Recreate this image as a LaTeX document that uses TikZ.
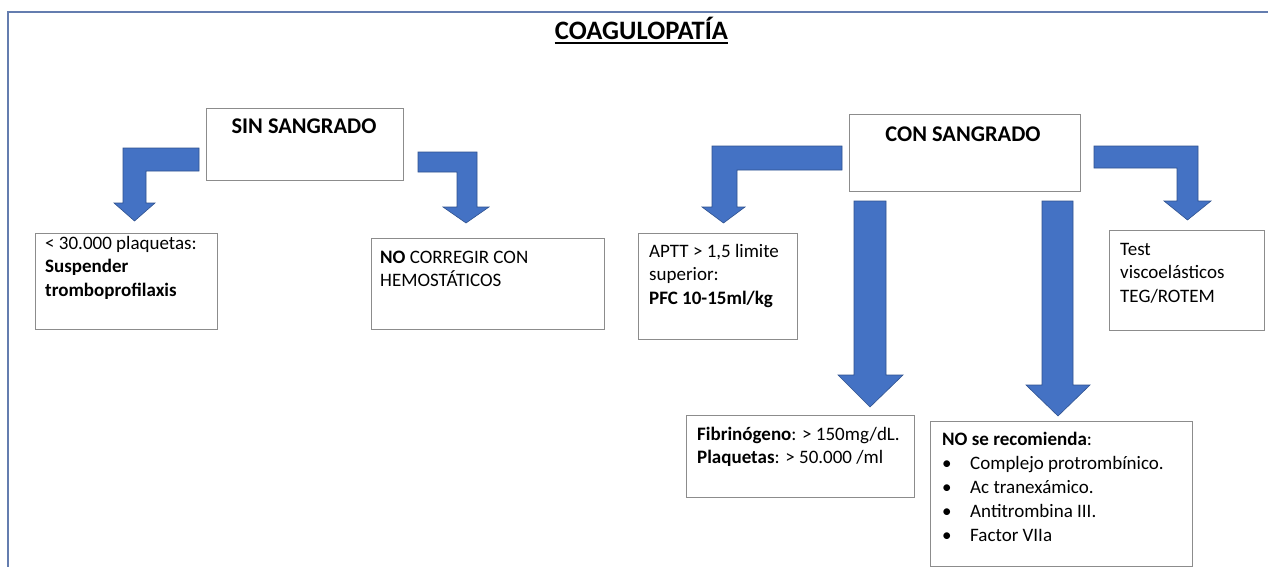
\documentclass[tikz,border=0pt]{standalone}
\usepackage{fontspec}
\setmainfont{Carlito}
\usetikzlibrary{calc}
\definecolor{frameblue}{RGB}{100,125,175}
\definecolor{arrowblue}{RGB}{68,114,196}
\definecolor{arrowedge}{RGB}{47,82,143}
\definecolor{boxgray}{RGB}{140,140,140}
% left-aligned stack of lines whose baseline is the first line's
\newcommand\stack[1]{\vtop{\halign{##\hfil\cr#1\crcr}}}
\newcommand\bul{\makebox[28pt][l]{\textbullet}}
\begin{document}
\begin{tikzpicture}[x=1pt,y=-1pt,
  box/.style={draw=boxgray, line width=1pt, fill=white, rectangle, inner sep=0pt, anchor=north west},
  body/.style={inner sep=0pt, anchor=base west, font=\fontsize{19}{23.5}\selectfont},
  head/.style={inner sep=0pt, anchor=base, font=\fontsize{22.4}{26}\selectfont\bfseries},
  blockarrow/.style={fill=arrowblue, draw=arrowedge, line width=0.6pt, line join=miter}]
\useasboundingbox (0,0) rectangle (1268,567);
\fill[white] (0,0) rectangle (1268,567);
% page frame
\draw[frameblue, line width=2.2pt] (8,567) -- (8,12) -- (1268,12);

% title
\node[inner sep=0pt, anchor=base, font=\fontsize{26.6}{30}\selectfont\bfseries] (title) at (641.5,40) {COAGULOPATÍA};
\draw[line width=1.6pt] ($(title.base west)+(0,3)$) -- ($(title.base east)+(0,3)$);

% boxes
\node[box, minimum width=197pt, minimum height=72pt] (sin) at (206,108) {};
\node[box, minimum width=231pt, minimum height=77pt] (con) at (849,114) {};
\node[box, minimum width=182pt, minimum height=96pt] (plaq) at (35,233) {};
\node[box, minimum width=233pt, minimum height=91pt] (nocorr) at (371,238) {};
\node[box, minimum width=159pt, minimum height=106pt] (aptt) at (638,233) {};
\node[box, minimum width=155pt, minimum height=100pt] (test) at (1109,230) {};
\node[box, minimum width=228pt, minimum height=82pt] (fib) at (686,415) {};
\node[box, minimum width=262pt, minimum height=145pt] (nore) at (930,421) {};

% headings
\node[head] (sintxt) at ($(sin.north)+(-1,26)$) {SIN SANGRADO};
\node[head] (context) at ($(con.north)+(-2,27)$) {CON SANGRADO};

% box texts
\node[body] (plaqtxt) at (45,249) {\stack{< 30.000 plaquetas:\cr \textbf{Suspender}\cr \textbf{tromboprofilaxis}}};
\node[body] (nocorrtxt) at (380,263) {\stack{\textbf{NO} CORREGIR CON\cr HEMOSTÁTICOS}};
\node[body] (aptttxt) at (649,257) {\stack{APTT > 1,5 limite\cr superior:\cr \textbf{PFC 10-15ml/kg}}};
\node[body] (testtxt) at (1120,255) {\stack{Test\cr viscoelásticos\cr TEG/ROTEM}};
\node[body] (fibtxt) at (697,440) {\stack{\textbf{Fibrinógeno}: > 150mg/dL.\cr \textbf{Plaquetas}: > 50.000 /ml}};
\node[body, font=\fontsize{19}{24}\selectfont] (noretxt) at (942,445) {\stack{\textbf{NO se recomienda}:\cr
  \bul Complejo protrombínico.\cr
  \bul Ac tranexámico.\cr
  \bul Antitrombina III.\cr
  \bul Factor VIIa}};

% block arrows
\filldraw[blockarrow] (199,148) -- (123,148) -- (123,203) -- (114,203) -- (134.5,221) -- (155,203) -- (146,203) -- (146,171) -- (199,171) -- cycle;
\filldraw[blockarrow] (418,152) -- (477,152) -- (477,207) -- (489,207) -- (466,223) -- (443,207) -- (457,207) -- (457,172) -- (418,172) -- cycle;
\filldraw[blockarrow] (842,146) -- (712,146) -- (712,207) -- (702,207) -- (723.5,223) -- (745,207) -- (737,207) -- (737,170) -- (842,170) -- cycle;
\filldraw[blockarrow] (1094,146) -- (1198,146) -- (1198,201) -- (1211,201) -- (1187.5,220) -- (1164,201) -- (1177,201) -- (1177,168) -- (1094,168) -- cycle;
\filldraw[blockarrow] (854,201) -- (886,201) -- (886,375) -- (903,375) -- (870,407) -- (838,375) -- (854,375) -- cycle;
\filldraw[blockarrow] (1042,201) -- (1073,201) -- (1073,385) -- (1090,385) -- (1058,416) -- (1026,385) -- (1042,385) -- cycle;
\end{tikzpicture}
\end{document}
